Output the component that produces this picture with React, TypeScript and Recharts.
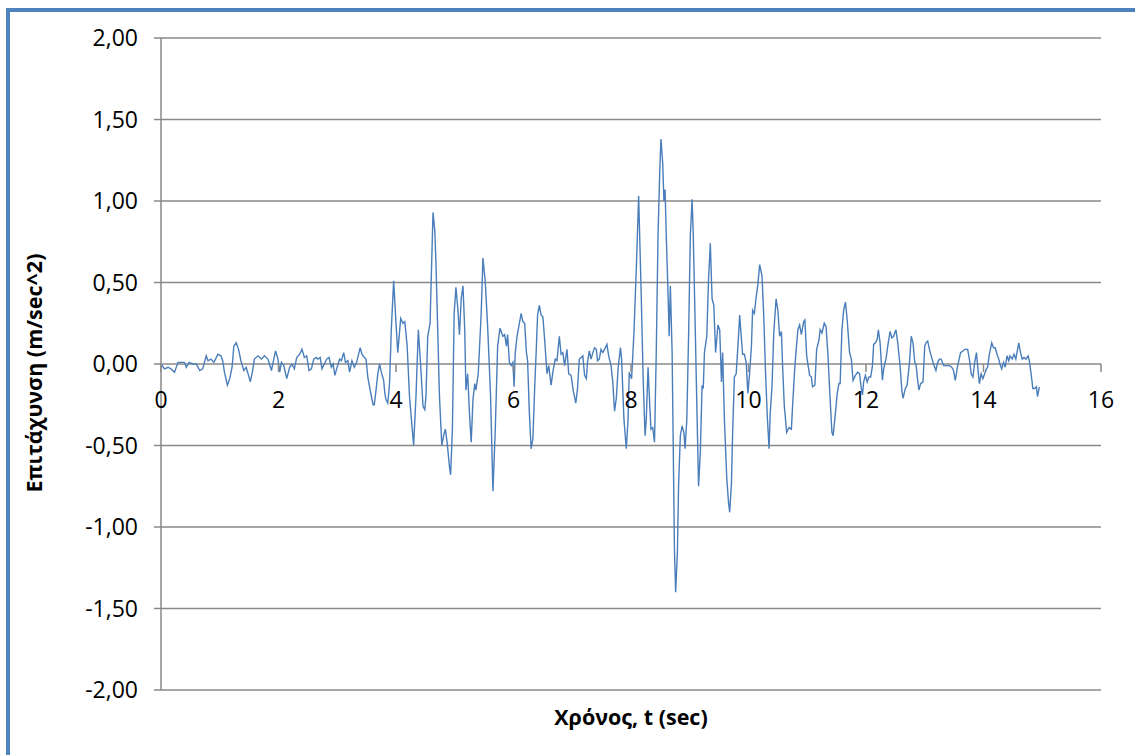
import { LineChart, Line, XAxis, YAxis, CartesianGrid, Label } from "recharts";

// Accelerogram: ground acceleration (m/sec^2) against time (sec)
const TIME = [
  0.0, 0.06, 0.12, 0.17, 0.23, 0.29, 0.34, 0.4, 0.43, 0.48,
  0.54, 0.6, 0.66, 0.71, 0.77, 0.8, 0.85, 0.9, 0.97, 1.02,
  1.05, 1.08, 1.13, 1.17, 1.21, 1.24, 1.28, 1.32, 1.36, 1.41,
  1.45, 1.49, 1.52, 1.56, 1.59, 1.65, 1.71, 1.76, 1.82, 1.88,
  1.92, 1.95, 1.99, 2.02, 2.05, 2.09, 2.14, 2.19, 2.23, 2.27,
  2.31, 2.36, 2.4, 2.44, 2.48, 2.52, 2.56, 2.6, 2.64, 2.67,
  2.71, 2.74, 2.78, 2.82, 2.86, 2.9, 2.93, 2.96, 2.99, 3.04,
  3.07, 3.11, 3.14, 3.18, 3.21, 3.25, 3.29, 3.33, 3.37,
  3.39, 3.42, 3.46, 3.49, 3.52, 3.56, 3.61, 3.63, 3.66, 3.69,
  3.72, 3.75, 3.79, 3.81, 3.83, 3.86, 3.89, 3.92, 3.96, 4.0,
  4.03, 4.08, 4.12, 4.15, 4.19, 4.23, 4.3, 4.34, 4.38, 4.42,
  4.46, 4.49, 4.51, 4.54, 4.58, 4.63, 4.66, 4.68, 4.71, 4.74,
  4.78, 4.81, 4.84, 4.87, 4.91, 4.93, 4.96, 4.99, 5.02, 5.05,
  5.08, 5.11, 5.14, 5.17, 5.19, 5.22, 5.25, 5.28, 5.31, 5.34,
  5.36, 5.4, 5.45, 5.48, 5.52, 5.56, 5.61, 5.65, 5.69, 5.73,
  5.77, 5.82, 5.85, 5.88, 5.9, 5.93, 5.96, 5.99, 6.01, 6.03,
  6.06, 6.09, 6.13, 6.16, 6.19, 6.22, 6.24, 6.27, 6.3, 6.33,
  6.36, 6.39, 6.41, 6.44, 6.47, 6.5, 6.53, 6.57, 6.6, 6.64,
  6.67, 6.71, 6.74, 6.78, 6.81, 6.84, 6.87, 6.91, 6.94, 6.98,
  7.02, 7.06, 7.09, 7.12, 7.15, 7.18, 7.21, 7.24, 7.26, 7.29,
  7.32, 7.35, 7.38, 7.41, 7.43, 7.46, 7.49, 7.52, 7.55, 7.59,
  7.62, 7.66, 7.69, 7.72, 7.75, 7.78, 7.82, 7.84, 7.88, 7.92,
  7.95, 7.97, 8.01, 8.05, 8.09, 8.13, 8.17, 8.21, 8.24, 8.26,
  8.29, 8.32, 8.34, 8.37, 8.4, 8.43, 8.46, 8.49, 8.51, 8.54,
  8.56, 8.58, 8.6, 8.63, 8.65, 8.67, 8.7, 8.72, 8.74, 8.76,
  8.79, 8.81, 8.84, 8.87, 8.9, 8.92, 8.95, 8.98, 9.01, 9.04,
  9.06, 9.09, 9.12, 9.15, 9.18, 9.21, 9.23, 9.25, 9.29, 9.32,
  9.35, 9.38, 9.41, 9.44, 9.48, 9.51, 9.54, 9.56, 9.59, 9.63,
  9.66, 9.68, 9.71, 9.73, 9.76, 9.79, 9.82, 9.85, 9.88, 9.9,
  9.93, 9.96, 9.99, 10.02, 10.05, 10.07, 10.1, 10.13, 10.16, 10.19,
  10.23, 10.26, 10.29, 10.32, 10.35, 10.37, 10.4, 10.43, 10.47, 10.5,
  10.53, 10.56, 10.58, 10.61, 10.65, 10.69, 10.73, 10.75, 10.79, 10.84,
  10.87, 10.9, 10.94, 10.96, 10.99, 11.04, 11.07, 11.09, 11.13, 11.16,
  11.2, 11.22, 11.25, 11.29, 11.32, 11.35, 11.39, 11.42, 11.44, 11.48,
  11.51, 11.54, 11.56, 11.59, 11.62, 11.65, 11.68, 11.72, 11.75, 11.78,
  11.82, 11.86, 11.89, 11.92, 11.94, 11.96, 11.99, 12.02, 12.05, 12.08,
  12.11, 12.13, 12.16, 12.19, 12.21, 12.24, 12.28, 12.3, 12.34, 12.37,
  12.41, 12.44, 12.47, 12.51, 12.54, 12.58, 12.61, 12.63, 12.67, 12.7,
  12.74, 12.77, 12.8, 12.83, 12.85, 12.88, 12.9, 12.93, 12.97, 13.0,
  13.02, 13.05, 13.08, 13.11, 13.14, 13.17, 13.19, 13.22, 13.25, 13.28,
  13.32, 13.36, 13.42, 13.46, 13.49, 13.52, 13.56, 13.61, 13.65, 13.68,
  13.73, 13.76, 13.79, 13.82, 13.85, 13.88, 13.9, 13.93, 13.96, 13.99,
  14.02, 14.05, 14.07, 14.1, 14.14, 14.17, 14.2, 14.23, 14.26, 14.28,
  14.31, 14.34, 14.37, 14.4, 14.43, 14.45, 14.49, 14.52, 14.55, 14.57,
  14.6, 14.63, 14.66, 14.69, 14.72, 14.76, 14.78, 14.81, 14.84, 14.87,
  14.9, 14.92, 14.95,
];

const ACCEL = [
  0.0, -0.03, -0.02, -0.03, -0.05, 0.01, 0.01, 0.01, -0.02, 0.01,
  0.0, 0.0, -0.04, -0.03, 0.05, 0.02, 0.03, 0.01, 0.06, 0.05,
  0.02, -0.05, -0.13, -0.09, -0.02, 0.11, 0.13, 0.09, 0.02, -0.04,
  -0.02, -0.07, -0.11, -0.04, 0.03, 0.05, 0.03, 0.05, 0.03, -0.04,
  0.03, 0.08, 0.03, -0.05, 0.01, -0.01, -0.09, -0.02, 0.0, -0.03,
  0.04, 0.06, 0.09, 0.04, 0.05, -0.04, -0.03, 0.03, 0.04, 0.03,
  0.04, -0.03, 0.0, 0.03, 0.04, -0.02, 0.0, -0.07, -0.03, 0.03,
  0.02, 0.07, 0.01, 0.02, -0.05, 0.02, -0.02, 0.01, 0.07,
  0.1, 0.06, 0.04, 0.03, -0.08, -0.16, -0.25, -0.25, -0.16, -0.06,
  0.0, -0.05, -0.1, -0.18, -0.22, -0.24, -0.12, 0.21, 0.51, 0.25,
  0.07, 0.28, 0.25, 0.26, 0.11, -0.2, -0.5, -0.2, 0.21, -0.01,
  -0.26, -0.28, -0.2, 0.17, 0.25, 0.93, 0.82, 0.62, 0.21, -0.2,
  -0.5, -0.44, -0.4, -0.48, -0.63, -0.68, -0.4, 0.31, 0.47, 0.35,
  0.18, 0.4, 0.48, 0.21, -0.16, -0.06, -0.3, -0.48, -0.22, -0.12,
  -0.16, -0.06, 0.31, 0.65, 0.5, 0.23, -0.2, -0.78, -0.4, 0.11,
  0.22, 0.17, 0.18, 0.11, 0.18, 0.01, -0.01, 0.01, -0.14, 0.07,
  0.17, 0.23, 0.31, 0.26, 0.25, 0.07, 0.02, -0.3, -0.52, -0.46,
  -0.15, 0.11, 0.3, 0.36, 0.3, 0.29, 0.15, -0.06, -0.01, -0.13,
  -0.05, 0.03, 0.02, 0.17, 0.06, 0.07, -0.01, 0.09, -0.06, -0.07,
  -0.17, -0.24, -0.15, 0.03, 0.04, 0.05, -0.07, -0.09, 0.01, 0.08,
  0.03, 0.07, 0.1, 0.09, 0.02, 0.03, 0.09, 0.07, 0.09, 0.12,
  0.05, -0.01, -0.11, -0.29, -0.21, -0.03, 0.1, 0.03, -0.34, -0.52,
  -0.34, -0.05, -0.09, 0.19, 0.58, 1.03, 0.48, -0.13, -0.44, -0.34,
  -0.02, -0.26, -0.4, -0.39, -0.48, 0.07, 0.79, 1.19, 1.38, 1.23,
  1.0, 1.07, 0.79, 0.44, 0.17, 0.48, 0.07, -0.54, -1.15, -1.4,
  -1.15, -0.74, -0.44, -0.38, -0.42, -0.52, -0.34, 0.17, 0.79, 1.01,
  0.79, 0.28, -0.24, -0.75, -0.54, -0.13, -0.15, 0.07, 0.17, 0.52,
  0.74, 0.4, 0.36, 0.07, 0.24, 0.21, -0.11, 0.07, -0.34, -0.7,
  -0.85, -0.91, -0.73, -0.42, -0.08, -0.06, 0.11, 0.3, 0.15, 0.06,
  0.06, 0.01, -0.18, -0.05, 0.11, 0.33, 0.31, 0.41, 0.49, 0.61,
  0.54, 0.29, -0.05, -0.32, -0.52, -0.3, -0.14, 0.19, 0.4, 0.33,
  0.17, 0.2, -0.01, -0.26, -0.42, -0.39, -0.4, -0.26, -0.01, 0.21,
  0.24, 0.18, 0.26, 0.27, 0.05, -0.07, -0.08, -0.14, -0.13, 0.09,
  0.15, 0.21, 0.19, 0.25, 0.23, 0.07, -0.22, -0.42, -0.44, -0.3,
  -0.18, -0.12, -0.12, 0.21, 0.33, 0.38, 0.27, 0.07, 0.03, -0.1,
  -0.07, -0.05, -0.06, -0.15, -0.19, -0.11, -0.07, -0.11, -0.08, -0.08,
  -0.01, 0.12, 0.13, 0.15, 0.21, 0.13, -0.1, -0.03, 0.03, 0.11,
  0.2, 0.16, 0.17, 0.21, 0.13, -0.01, -0.16, -0.21, -0.15, -0.13,
  0.01, 0.17, 0.13, 0.01, 0.0, -0.1, -0.16, -0.12, -0.11, 0.11,
  0.13, 0.14, 0.09, 0.05, 0.01, -0.02, -0.04, 0.01, 0.03, 0.03,
  -0.01, -0.01, -0.01, -0.02, -0.04, -0.1, -0.01, 0.07, 0.08, 0.09,
  0.09, 0.03, -0.06, -0.08, 0.01, 0.07, -0.01, -0.12, -0.06, -0.09,
  -0.06, -0.03, -0.02, 0.06, 0.13, 0.1, 0.1, 0.06, 0.03, 0.0,
  -0.03, 0.01, -0.02, 0.05, 0.02, 0.05, 0.03, 0.06, 0.03, 0.07,
  0.13, 0.07, 0.03, 0.04, 0.03, 0.05, 0.02, -0.06, -0.15, -0.15,
  -0.14, -0.2, -0.14,
];

const X_TICKS = [0, 2, 4, 6, 8, 10, 12, 14, 16];
const Y_TICKS = [-2, -1.5, -1, -0.5, 0, 0.5, 1, 1.5, 2];

const data = TIME.map((t, i) => ({ t, a: ACCEL[i] }));

const W = 1135;
const H = 755;
const MARGIN = { top: 38, right: 34, bottom: 35, left: 0 };
const X_AXIS_H = 30;
const PLOT_H = H - MARGIN.top - MARGIN.bottom - X_AXIS_H;

const FONT = '"Open Sans", "Noto Sans", sans-serif';
const GRID = "#898989";
const SERIES = "#4a7ebb";
const FRAME = "#4f81bd";

const fmt = (v: number) => v.toFixed(2).replace(".", ",");

// x axis crosses the value axis at 0, so ticks sit on the middle line
function TimeTick(props: any) {
  const { x, y, payload } = props;
  const y0 = y - PLOT_H / 2;
  return (
    <g>
      <line x1={x} y1={y0} x2={x} y2={y0 + 8} stroke={GRID} strokeWidth={1.5} />
      <text x={x} y={y0 + 44} textAnchor="middle" fontFamily={FONT} fontSize={23} fill="#000">
        {payload.value}
      </text>
    </g>
  );
}

function YTitle({ viewBox }: any) {
  const cx = viewBox.x + 33;
  const cy = viewBox.y + viewBox.height / 2 + 9;
  return (
    <text
      transform={`translate(${cx},${cy}) rotate(-90)`}
      textAnchor="middle"
      dominantBaseline="central"
      fontFamily={FONT}
      fontWeight={700}
      fontSize={21.5}
      fill="#000"
    >
      Επιτάχυνση (m/sec^2)
    </text>
  );
}

function XTitle({ viewBox }: any) {
  return (
    <text
      x={viewBox.x + viewBox.width / 2}
      y={viewBox.y + 35}
      textAnchor="middle"
      fontFamily={FONT}
      fontWeight={700}
      fontSize={21.5}
      fill="#000"
    >
      Χρόνος, t (sec)
    </text>
  );
}

export default function App() {
  return (
    <div style={{ position: "absolute", left: 0, top: 0, width: W, height: H, overflow: "hidden", background: "#fff" }}>
      <div
        style={{
          position: "absolute",
          left: 6,
          top: 8,
          width: W + 40,
          height: H + 40,
          border: `4px solid ${FRAME}`,
          boxSizing: "border-box",
        }}
      />
      <div style={{ position: "absolute", left: 0, top: 0 }}>
        <LineChart width={W} height={H} data={data} margin={MARGIN}>
          <CartesianGrid horizontal vertical={false} stroke={GRID} strokeWidth={1.5} />
          <XAxis
            dataKey="t"
            type="number"
            domain={[0, 16]}
            ticks={X_TICKS}
            interval={0}
            height={X_AXIS_H}
            axisLine={false}
            tickLine={false}
            tickSize={0}
            tickMargin={0}
            tick={(p: any) => <TimeTick {...p} />}
          >
            <Label content={(p: any) => <XTitle {...p} />} />
          </XAxis>
          <YAxis
            type="number"
            domain={[-2, 2]}
            ticks={Y_TICKS}
            interval={0}
            width={161}
            tickFormatter={fmt}
            tickSize={7}
            tickMargin={16}
            axisLine={{ stroke: GRID, strokeWidth: 1.5 }}
            tickLine={{ stroke: GRID, strokeWidth: 1.5 }}
            tick={{ fontFamily: FONT, fontSize: 23, fill: "#000" }}
          >
            <Label content={(p: any) => <YTitle {...p} />} />
          </YAxis>
          <Line
            type="linear"
            dataKey="a"
            stroke={SERIES}
            strokeWidth={1.4}
            dot={false}
            isAnimationActive={false}
          />
        </LineChart>
      </div>
    </div>
  );
}
